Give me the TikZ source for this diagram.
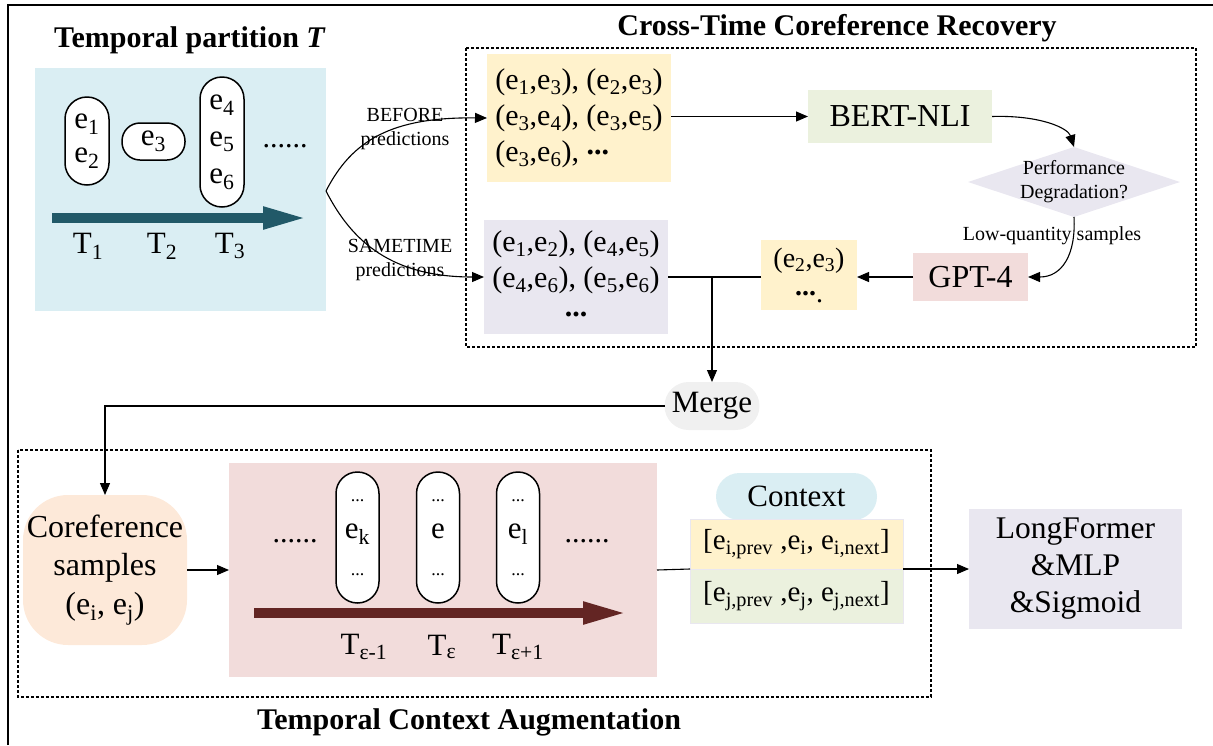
\documentclass[tikz,border=0pt]{standalone}
\usepackage{fontspec}
\setmainfont{Liberation Serif}
\usetikzlibrary{arrows.meta,shapes.geometric}
\newcommand{\sbx}[1]{\textsubscript{#1}}
\newcommand{\cdotsT}{\raisebox{0.22em}{\textbf{...}}}
\definecolor{lblue}{HTML}{DAEEF3}
\definecolor{tealarr}{HTML}{215968}
\definecolor{lyellow}{HTML}{FFF2CC}
\definecolor{lgreen}{HTML}{EBF1DE}
\definecolor{lav}{HTML}{E9E7F0}
\definecolor{lpink}{HTML}{F2DCDB}
\definecolor{peach}{HTML}{FDE9D9}
\definecolor{mgray}{HTML}{F0F0F0}
\definecolor{darkred}{HTML}{632523}
\tikzset{
  every node/.style={inner sep=0pt, outer sep=0pt},
  main/.style={font=\fontsize{30}{36}\selectfont},
  big/.style={font=\fontsize{31}{38}\selectfont},
  small/.style={font=\fontsize{20}{24}\selectfont},
  ttl/.style={font=\fontsize{30}{36}\selectfont\bfseries},
  pill/.style={draw, fill=white, line width=1.5pt, align=center},
  conn/.style={line width=1.1pt, -{Triangle[length=12pt,width=10pt]}},
  ln/.style={line width=1.1pt},
  dotbox/.style={dash pattern=on 3pt off 2pt, line width=1.5pt},
  timearrow/.style={line width=10pt, -{Triangle[length=46pt,width=20pt]}},
}
\begin{document}
\begin{tikzpicture}[x=1pt,y=-1pt]
\useasboundingbox (0,0) rectangle (1213,745);
\draw[line width=2.5pt] (8,745) -- (8,5) -- (1213,5);

% ---------- Temporal partition ----------
\node[ttl] (t1) at (190,40) {Temporal partition \textit{T}};
\node[fill=lblue, minimum width=291pt, minimum height=243pt] (blue) at (180.5,189.5) {};
\node[pill, rounded corners=22pt, minimum width=44pt, minimum height=88pt,
      font=\fontsize{31}{34}\selectfont] (p12) at (87,141) {e\sbx{1}\\e\sbx{2}};
\node[pill, rounded corners=18pt, minimum width=63pt, minimum height=37pt,
      font=\fontsize{31}{34}\selectfont] (p3) at (153.5,141.5) {e\sbx{3}};
\node[pill, rounded corners=22pt, minimum width=44pt, minimum height=130pt,
      font=\fontsize{31}{37}\selectfont] (p456) at (222,142) {e\sbx{4}\\e\sbx{5}\\e\sbx{6}};
\node[main] (dots1) at (285,146) {......};
\coordinate (ta1) at (52,218);
\coordinate (ta2) at (309,218);
\draw[timearrow, tealarr] (ta1) -- (ta2);
\node[big] (T1) at (88,246) {T\sbx{1}};
\node[big] (T2) at (162,246) {T\sbx{2}};
\node[big] (T3) at (230,246) {T\sbx{3}};

% ---------- Cross-Time Coreference Recovery ----------
\node[ttl] (t2) at (837,28) {Cross-Time Coreference Recovery};
\draw[dotbox] (466,48) rectangle (1196,347);
\node[main, fill=lyellow, minimum width=184pt, minimum height=128pt, align=left] (y1) at (579,118)
  {(e\sbx{1},e\sbx{3}), (e\sbx{2},e\sbx{3})\\(e\sbx{3},e\sbx{4}), (e\sbx{3},e\sbx{5})\\(e\sbx{3},e\sbx{6}), \cdotsT};
\node[main, fill=lav, minimum width=184pt, minimum height=114pt, align=center] (l2) at (576,277)
  {(e\sbx{1},e\sbx{2}), (e\sbx{4},e\sbx{5})\\(e\sbx{4},e\sbx{6}), (e\sbx{5},e\sbx{6})\\\cdotsT};
\node[fill=lgreen, minimum width=184pt, minimum height=53pt, font=\fontsize{32}{38}\selectfont] (bert) at (900,116.5) {BERT-NLI};
\node[diamond, fill=lav, minimum width=212pt, minimum height=70pt] (dia) at (1074,182) {};
\node[small, align=center] (diat) at (dia.center) {Performance\\Degradation?};
\node[fill=lpink, minimum width=115pt, minimum height=48pt, font=\fontsize{32}{38}\selectfont] (gpt) at (970.5,277) {GPT-4};
\node[fill=lyellow, minimum width=96pt, minimum height=70pt, align=center,
      font=\fontsize{28}{35}\selectfont] (ys) at (809,275) {(e\sbx{2},e\sbx{3})\\\cdotsT.};
\node[small] (lq) at (1052,236) {Low-quantity samples};

\coordinate (split) at (326,191);
\draw[conn] (split) .. controls (352,140) and (392,117) .. (y1.west);
\draw[conn] (split) .. controls (352,242) and (392,277) .. (l2.west);
\node[small, align=center] (lb) at (405,129) {BEFORE\\predictions};
\node[small, align=center] (ls) at (400,260) {SAMETIME\\predictions};

\draw[conn] (y1.east |- bert.west) -- (bert.west);
\draw[conn] (bert.east) .. controls (1040,115) and (1068,128) .. (dia.north);
\draw[conn] (dia.south) .. controls (1076,255) and (1062,277) .. (gpt.east);
\draw[conn] (gpt.west) -- (ys.east |- gpt.west);
\draw[ln] (ys.west |- l2.east) -- (l2.east);

% ---------- Merge ----------
\node[fill=mgray, minimum width=95pt, minimum height=48pt, rounded corners=24pt, font=\fontsize{31}{36}\selectfont] (merge) at (712,406) {Merge};
\draw[conn] (merge.north |- l2.east) -- (merge.north);

% ---------- Temporal Context Augmentation ----------
\draw[dotbox] (18,450) rectangle (931,697);
\node[ttl] (t3) at (469,722) {Temporal Context Augmentation};
\node[fill=peach, minimum width=164pt, minimum height=150pt, rounded corners=45pt, align=center,
      font=\fontsize{32}{38.5}\selectfont] (coref) at (105,570) {Coreference\\samples\\(e\sbx{i}, e\sbx{j})};
\draw[conn] (merge.west) -| (coref.north);
\node[fill=lpink, minimum width=428pt, minimum height=214pt] (pink) at (443,570) {};
\node[pill, rounded corners=21.5pt, minimum width=43pt, minimum height=131pt, font=\fontsize{31}{37}\selectfont] (pk) at (357.5,537.5)
  {{\fontsize{18}{37}\selectfont ...}\\e\sbx{k}\\{\fontsize{18}{37}\selectfont ...}};
\node[pill, rounded corners=21.5pt, minimum width=43pt, minimum height=131pt, font=\fontsize{31}{37}\selectfont] (pe) at (438,537.5)
  {{\fontsize{18}{37}\selectfont ...}\\e\\{\fontsize{18}{37}\selectfont ...}};
\node[pill, rounded corners=21.5pt, minimum width=43pt, minimum height=131pt, font=\fontsize{31}{37}\selectfont] (pl) at (518,537.5)
  {{\fontsize{18}{37}\selectfont ...}\\e\sbx{l}\\{\fontsize{18}{37}\selectfont ...}};
\node[main] (dots2) at (295,541) {......};
\node[main] (dots3) at (587,541) {......};
\coordinate (da1) at (254,613);
\coordinate (da2) at (629,613);
\draw[timearrow, darkred] (da1) -- (da2);
\node[big] (Te1) at (364,647) {T\sbx{ε-1}};
\node[big] (Te2) at (442,647) {T\sbx{ε}};
\node[big] (Te3) at (518,647) {T\sbx{ε+1}};
\draw[conn] (coref.east) -- (pink.west);

\node[fill=lblue, minimum width=161pt, minimum height=47pt, rounded corners=23.5pt, font=\fontsize{31}{36}\selectfont] (ctx) at (796.5,496.5) {Context};
\node[fill=lyellow, draw=lav, line width=1pt, minimum width=213pt, minimum height=50pt, font=\fontsize{29}{36}\selectfont] (rowi) at (796.5,544)
  {[e\sbx{i,prev} ,e\sbx{i}, e\sbx{i,next}]};
\node[fill=lgreen, draw=lav, line width=1pt, minimum width=213pt, minimum height=54pt, font=\fontsize{29}{36}\selectfont] (rowj) at (796.5,596)
  {[e\sbx{j,prev} ,e\sbx{j}, e\sbx{j,next}]};
\draw[ln] (pink.east) -- (rowi.south west);
\node[fill=lav, minimum width=213pt, minimum height=120pt, align=center,
      font=\fontsize{31.5}{37}\selectfont] (lf) at (1075.5,569) {LongFormer\\\&MLP\\\&Sigmoid};
\draw[conn] (rowi.south east) -- (lf.west);
\end{tikzpicture}
\end{document}
